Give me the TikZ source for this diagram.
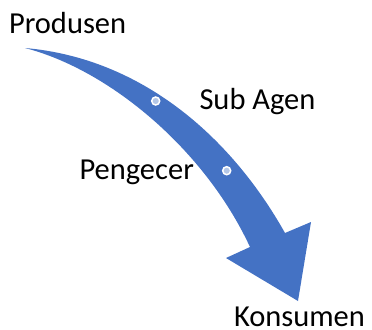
\documentclass[tikz,border=0pt]{standalone}
\usepackage{fontspec}
\setmainfont{Carlito}
\definecolor{arrowblue}{HTML}{4472C4}
\definecolor{dotblue}{HTML}{B4C7E7}
\begin{document}
\begin{tikzpicture}[x=1bp,y=-1bp,
  label/.style={anchor=base west,inner sep=0pt,outer sep=0pt,
    font=\fontsize{30.5bp}{36bp}\selectfont,text=black},
  stopdot/.style={circle,fill=dotblue,draw=white,line width=1.5bp,
    minimum size=8bp,inner sep=0pt}]
\useasboundingbox (0,0) rectangle (372,330);
% tapered curved arrow
\coordinate (tail) at (25,48);
\coordinate (outerend) at (285,233);
\coordinate (innerend) at (250,247);
\coordinate (leftbarb) at (226,258);
\coordinate (tip) at (298,301);
\coordinate (rightbarb) at (311,222);
\fill[arrowblue] (tail) .. controls (140,58) and (230,135) .. (outerend)
  -- (rightbarb) -- (tip) -- (leftbarb) -- (innerend)
  .. controls (205,150) and (110,70) .. (tail) -- cycle;
% stage markers on the arrow
\node[stopdot] (d1) at (155.7,101) {};
\node[stopdot] (d2) at (226.7,170.7) {};
% stage labels
\node[label] (produsen) at (9,33) {Produsen};
\node[label] (subagen) at (199.5,109) {Sub Agen};
\node[label] (pengecer) at (79.5,179) {Pengecer};
\node[label,text height=20bp,text depth=0pt] (konsumen) at (234,326) {Konsumen};
\end{tikzpicture}
\end{document}
